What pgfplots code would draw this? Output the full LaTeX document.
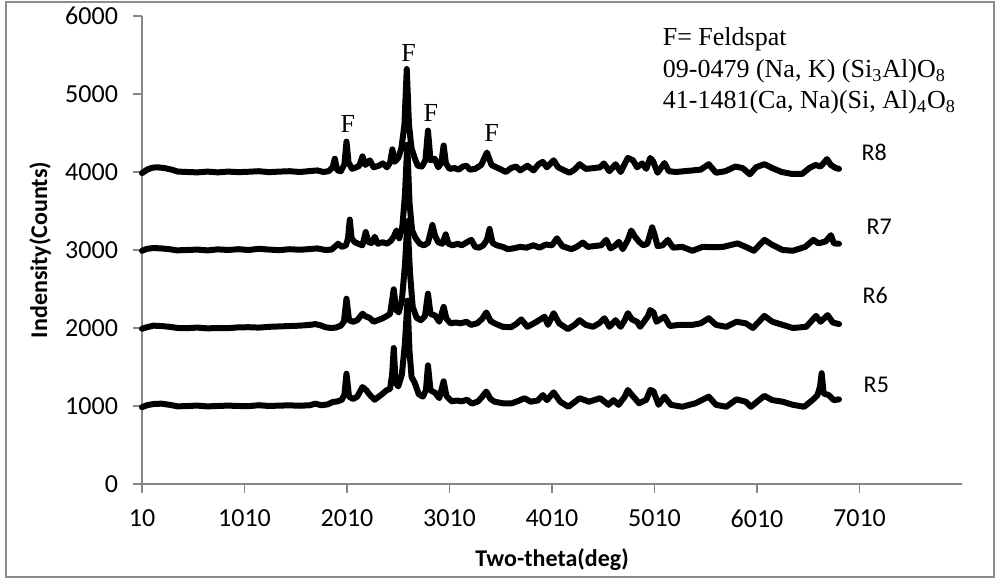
\documentclass[border=0pt]{standalone}
\usepackage{fontspec}
\setmainfont{Liberation Serif}
\newfontfamily\carlito{Carlito}
\usepackage{pgfplots}
\pgfplotsset{compat=1.18}
\definecolor{axgray}{RGB}{134,134,134}
\definecolor{bordergray}{RGB}{140,140,140}

\begin{document}
\begin{tikzpicture}
\useasboundingbox (-71pt,-48.5pt) rectangle (429pt,242pt);
\draw[bordergray, line width=1pt] (-68pt,-46.5pt) rectangle (426pt,241pt);
\begin{axis}[
 at={(0pt,0pt)}, anchor=south west,
 scale only axis, width=410pt, height=234pt,
 xmin=10, xmax=8010, ymin=0, ymax=6000,
 axis x line=bottom, axis y line=left,
 axis line style={-, axgray, line width=0.75pt},
 xtick={10,1010,2010,3010,4010,5010,6010,7010},
 ytick={0,1000,2000,3000,4000,5000,6000},
 tick align=outside, major tick length=4.5pt,
 tick style={axgray, line width=0.75pt},
 /pgf/number format/assume math mode=true,
 /pgf/number format/1000 sep={},
 scaled ticks=false,
 ticklabel style={font=\carlito\fontsize{13}{15}\selectfont, text=black},
 xticklabel style={yshift=-5pt},
 yticklabel style={xshift=-4pt},
 clip=false,
]
% R8
\addplot[black, line width=3pt, line join=round, line cap=round, mark=none] coordinates {
(10,3985)(60,4030)(110,4055)(160,4060)(230,4050)(300,4030)(360,4005)(450,4000)(550,3995)(650,4005)(750,3995)(850,4005)(950,3998)(1050,4003)(1150,4010)(1250,3998)(1350,4005)(1450,4010)(1550,4000)(1650,4012)(1720,4020)(1780,4000)(1830,4010)(1870,4060)(1891,4170)(1915,4020)(1950,4010)(1985,4100)(2005,4390)(2025,4120)(2060,4040)(2100,4060)(2130,4080)(2161,4200)(2190,4090)(2232,4150)(2270,4060)(2320,4080)(2359,4110)(2400,4060)(2430,4120)(2453,4290)(2475,4130)(2510,4180)(2540,4300)(2570,4600)(2593,5320)(2615,4600)(2640,4300)(2670,4180)(2700,4080)(2740,4070)(2775,4150)(2800,4530)(2825,4150)(2866,4170)(2900,4060)(2930,4120)(2953,4340)(2975,4110)(3010,4040)(3060,4050)(3100,4030)(3140,4070)(3175,4080)(3210,4030)(3260,4040)(3320,4090)(3375,4250)(3420,4090)(3450,4070)(3500,4040)(3560,4000)(3610,4050)(3660,4070)(3700,4020)(3770,4080)(3830,4020)(3880,4100)(3920,4130)(3960,4060)(4026,4150)(4070,4060)(4130,4020)(4180,3990)(4230,4030)(4280,4100)(4340,4040)(4420,4050)(4480,4060)(4516,4110)(4570,4010)(4630,4100)(4680,4000)(4730,4130)(4750,4180)(4800,4150)(4840,4060)(4890,4110)(4930,4040)(4968,4180)(4995,4140)(5040,3990)(5107,4115)(5150,4010)(5220,4000)(5300,4010)(5380,4020)(5460,4030)(5539,4100)(5610,3990)(5700,4010)(5799,4070)(5870,4050)(5940,3970)(6000,4060)(6082,4100)(6160,4050)(6250,4000)(6350,3975)(6450,3975)(6520,4050)(6580,4090)(6630,4070)(6693,4165)(6730,4090)(6780,4050)(6810,4040)
};
% R7
\addplot[black, line width=3pt, line join=round, line cap=round, mark=none] coordinates {
(10,2990)(60,3015)(120,3025)(200,3020)(280,3010)(350,2995)(450,3000)(550,3005)(650,2995)(750,3008)(850,3000)(950,3010)(1050,3000)(1150,3015)(1250,3005)(1350,2998)(1450,3010)(1550,3003)(1650,3012)(1720,3020)(1800,3000)(1860,3005)(1923,3080)(1960,3040)(2000,3060)(2020,3150)(2037,3390)(2055,3150)(2086,3100)(2120,3080)(2160,3060)(2193,3230)(2220,3100)(2250,3090)(2281,3170)(2310,3080)(2359,3100)(2400,3080)(2440,3120)(2470,3180)(2492,3250)(2520,3150)(2550,3300)(2575,3700)(2598,4350)(2620,3600)(2645,3250)(2680,3150)(2720,3080)(2760,3060)(2800,3090)(2843,3320)(2870,3180)(2900,3100)(2940,3080)(2973,3200)(3000,3080)(3040,3060)(3090,3080)(3130,3060)(3180,3100)(3223,3130)(3260,3040)(3300,3030)(3340,3060)(3375,3130)(3401,3270)(3430,3090)(3470,3060)(3530,3040)(3580,3010)(3630,3020)(3700,3040)(3760,3030)(3830,3060)(3890,3030)(3950,3070)(4010,3060)(4058,3150)(4110,3050)(4200,3010)(4250,3040)(4311,3095)(4360,3040)(4420,3050)(4490,3060)(4539,3130)(4580,3020)(4620,3050)(4662,3105)(4700,3010)(4750,3130)(4783,3250)(4820,3170)(4860,3105)(4900,3060)(4940,3080)(4987,3290)(5010,3200)(5040,3050)(5090,3060)(5140,3130)(5190,3030)(5280,3040)(5380,2990)(5480,3040)(5580,3035)(5680,3040)(5820,3085)(5900,3040)(5980,2990)(6082,3130)(6160,3065)(6260,3000)(6360,2990)(6480,3040)(6560,3130)(6610,3085)(6680,3110)(6731,3190)(6760,3085)(6810,3080)
};
% R6
\addplot[black, line width=3pt, line join=round, line cap=round, mark=none] coordinates {
(10,1990)(60,2010)(120,2030)(200,2025)(280,2015)(360,2000)(450,1998)(550,2005)(650,1995)(750,2000)(850,1998)(950,2008)(1050,2010)(1150,2005)(1250,2015)(1350,2020)(1450,2025)(1550,2030)(1650,2040)(1700,2050)(1750,2035)(1800,2010)(1850,2000)(1900,2005)(1950,2030)(1980,2080)(2005,2375)(2030,2100)(2070,2080)(2110,2100)(2161,2183)(2190,2150)(2230,2130)(2270,2080)(2310,2100)(2350,2120)(2394,2150)(2430,2180)(2466,2496)(2490,2230)(2515,2200)(2545,2350)(2575,2800)(2600,3370)(2625,2700)(2651,2270)(2690,2130)(2730,2100)(2770,2150)(2800,2440)(2825,2180)(2870,2160)(2910,2080)(2953,2270)(2980,2120)(3020,2060)(3070,2070)(3120,2060)(3175,2080)(3220,2040)(3280,2060)(3330,2120)(3369,2200)(3410,2090)(3450,2060)(3530,2015)(3610,2010)(3660,2050)(3710,2110)(3770,2015)(3860,2080)(3937,2145)(3970,2040)(4026,2190)(4080,2060)(4165,1985)(4230,2040)(4279,2100)(4340,2040)(4410,2015)(4470,2060)(4522,2125)(4570,2015)(4630,2100)(4680,2015)(4720,2100)(4750,2190)(4790,2110)(4840,2080)(4870,2015)(4945,2150)(4968,2230)(5000,2200)(5030,2080)(5107,2145)(5160,2025)(5250,2040)(5380,2040)(5460,2060)(5539,2125)(5610,2040)(5710,2015)(5810,2080)(5900,2060)(5970,2000)(6082,2155)(6160,2080)(6260,2040)(6360,2000)(6490,2015)(6586,2155)(6630,2080)(6699,2165)(6750,2070)(6810,2050)
};
% R5
\addplot[black, line width=3pt, line join=round, line cap=round, mark=none] coordinates {
(10,985)(60,1010)(120,1025)(200,1030)(280,1015)(360,995)(450,1000)(550,1005)(650,995)(750,1000)(850,1005)(950,1000)(1050,998)(1150,1010)(1250,1000)(1350,1005)(1450,1008)(1550,1003)(1650,1010)(1700,1030)(1760,1010)(1820,1020)(1870,1050)(1920,1060)(1960,1080)(1985,1150)(2005,1414)(2030,1120)(2070,1090)(2110,1120)(2161,1243)(2200,1200)(2240,1130)(2280,1080)(2320,1120)(2360,1160)(2394,1200)(2430,1220)(2450,1400)(2466,1744)(2485,1300)(2510,1250)(2545,1400)(2575,1800)(2600,2350)(2620,1700)(2640,1370)(2670,1300)(2710,1150)(2750,1120)(2780,1200)(2800,1521)(2825,1200)(2870,1170)(2910,1100)(2953,1316)(2980,1130)(3030,1060)(3080,1070)(3130,1060)(3180,1080)(3230,1030)(3290,1060)(3330,1120)(3369,1185)(3410,1090)(3450,1055)(3530,1035)(3620,1035)(3690,1070)(3743,1100)(3800,1055)(3870,1070)(3921,1140)(3960,1075)(4026,1175)(4090,1055)(4170,990)(4230,1050)(4279,1100)(4370,1055)(4480,1100)(4560,1015)(4610,1075)(4660,1015)(4720,1120)(4750,1205)(4790,1140)(4860,1035)(4930,1080)(4968,1205)(5000,1190)(5050,1015)(5107,1120)(5170,1015)(5280,990)(5410,1035)(5539,1120)(5610,1015)(5710,990)(5810,1085)(5900,1055)(5950,990)(6082,1130)(6160,1075)(6260,1055)(6360,1015)(6470,990)(6550,1075)(6600,1140)(6625,1250)(6641,1420)(6660,1160)(6710,1140)(6760,1075)(6810,1085)
};
\begin{scope}[font=\fontsize{13}{15}\selectfont]
\node[anchor=base] at (axis cs:2018,4504) {F};
\node[anchor=base] at (axis cs:2612,5414) {F};
\node[anchor=base] at (axis cs:2827,4645) {F};
\node[anchor=base] at (axis cs:3421,4389) {F};
\node[anchor=base west, inner sep=0pt] at (axis cs:5088,5619) {F= Feldspat};
\node[anchor=base west, inner sep=0pt] at (axis cs:5088,5214) {09-0479 (Na, K) (Si\textsubscript{3}Al)O\textsubscript{8}};
\node[anchor=base west, inner sep=0pt] at (axis cs:5088,4808) {41-1481(Ca, Na)(Si, Al)\textsubscript{4}O\textsubscript{8}};
\end{scope}
\begin{scope}[font=\carlito\fontsize{12}{14}\selectfont]
\node at (axis cs:7154,4256) {R8};
\node at (axis cs:7203,3295) {R7};
\node at (axis cs:7164,2423) {R6};
\node at (axis cs:7174,1269) {R5};
\end{scope}
\end{axis}
\node[font=\carlito\bfseries\fontsize{12}{14}\selectfont] at (205pt,-38pt) {Two-theta(deg)};
\node[font=\carlito\bfseries\fontsize{12}{14}\selectfont, rotate=90] at (-51pt,117pt) {Indensity(Counts)};
\end{tikzpicture}
\end{document}
